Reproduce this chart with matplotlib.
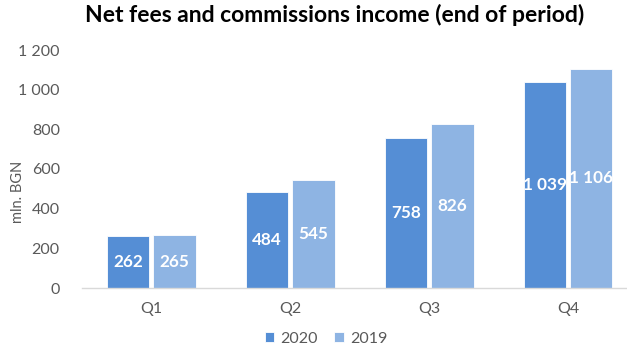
import matplotlib.pyplot as plt
from matplotlib.ticker import FuncFormatter
import numpy as np

plt.rcParams['font.family'] = ['Lato', 'DejaVu Sans']

quarters = ['Q1', 'Q2', 'Q3', 'Q4']
fees_2020 = [262, 484, 758, 1039]
fees_2019 = [265, 545, 826, 1106]

c2020 = '#558ED5'
c2019 = '#8EB4E3'
grey = '#595959'

def spaced(v):
    # thousands separated by a space, e.g. 1 039
    return f'{int(round(v)):,}'.replace(',', ' ')

fig = plt.figure(figsize=(6.27, 3.49), dpi=100)
ax = fig.add_axes([82 / 627, 61 / 349, 1 - 82 / 627, 238 / 349])

x = np.arange(len(quarters))
w = 0.305
off = 0.167
b1 = ax.bar(x - off, fees_2020, w, color=c2020, edgecolor='white', linewidth=0.6, label='2020')
b2 = ax.bar(x + off, fees_2019, w, color=c2019, edgecolor='white', linewidth=0.6, label='2019')

for bars, vals in ((b1, fees_2020), (b2, fees_2019)):
    for b, v in zip(bars, vals):
        ax.text(b.get_x() + b.get_width() / 2, v / 2, spaced(v), ha='center', va='center',
                color='white', fontsize=12.3, fontweight='bold')

ax.set_xlim(-0.5, 3.424)
ax.set_ylim(0, 1200)
ax.set_yticks(range(0, 1201, 200))
ax.yaxis.set_major_formatter(FuncFormatter(lambda v, p: spaced(v)))
ax.set_xticks(x)
ax.set_xticklabels(quarters)
ax.tick_params(axis='both', length=0, labelsize=11.5, colors=grey)
ax.tick_params(axis='y', pad=16)
ax.tick_params(axis='x', pad=10)
for s in ('top', 'right', 'left'):
    ax.spines[s].set_visible(False)
ax.spines['bottom'].set_color('#D9D9D9')
ax.spines['bottom'].set_linewidth(1.0)

fig.text(18 / 627, 1 - 192 / 349, 'mln. BGN', rotation=90, ha='center', va='center',
         fontsize=10.5, color=grey)

fig.suptitle('Net fees and commissions income (end of period)', x=0.533, y=0.99,
             fontsize=16.5, fontweight='bold', color='black')

fig.legend(handles=[b1, b2], loc='center', bbox_to_anchor=(0.52, 0.03), ncol=2, frameon=False,
           fontsize=11.5, labelcolor=grey, handlelength=0.6, handleheight=0.6,
           handletextpad=0.4, columnspacing=1.0, borderpad=0.1)

fig.savefig('out.png', dpi=100)
